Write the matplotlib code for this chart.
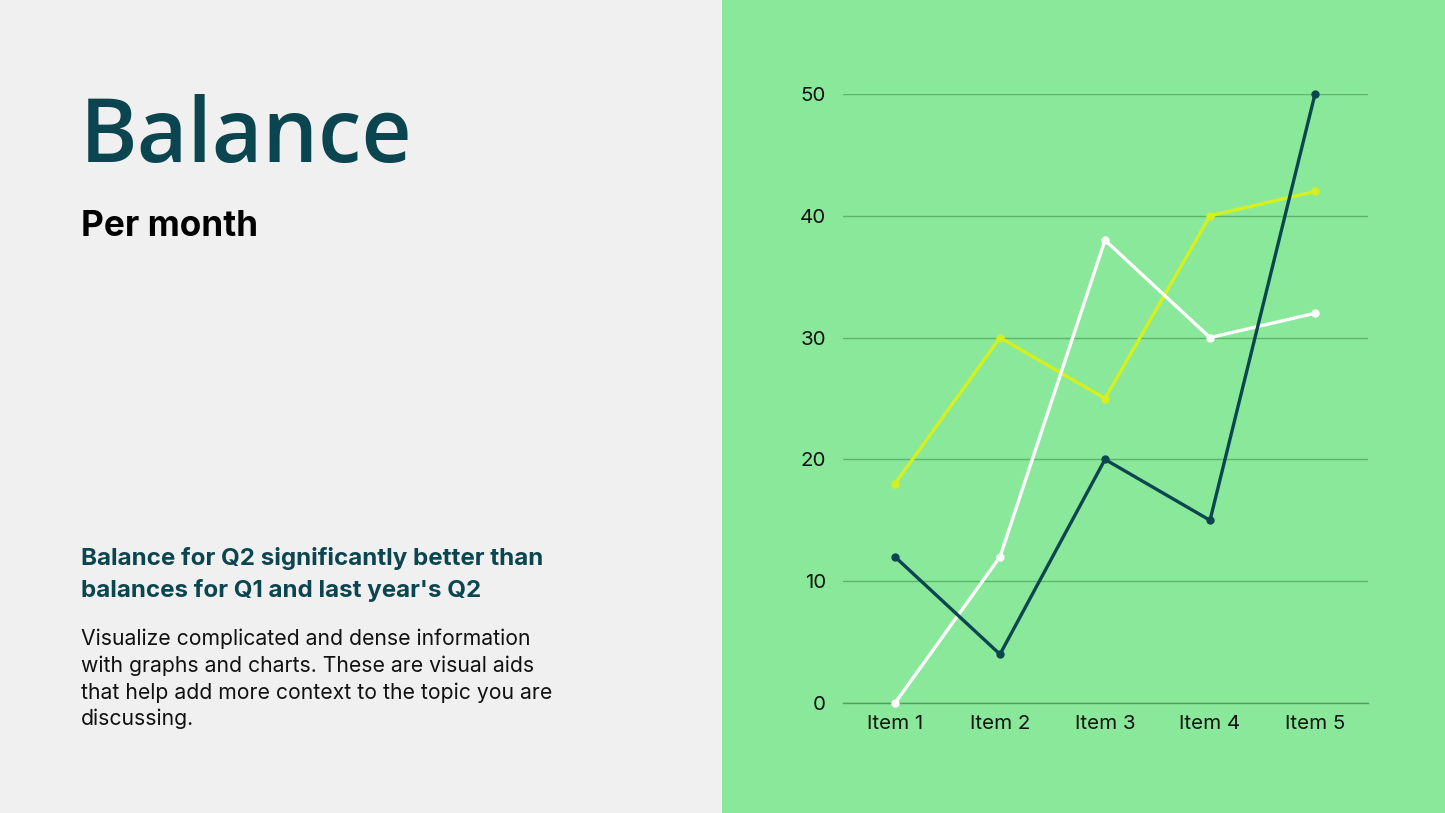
import matplotlib
matplotlib.use("Agg")
import matplotlib.pyplot as plt

# ---- data ----
categories = ["Item 1", "Item 2", "Item 3", "Item 4", "Item 5"]
series_dark = [12, 4, 20, 15, 50]
series_white = [0, 12, 38, 30, 32]
series_yellow = [18, 30, 25, 40, 42]
y_ticks = [0, 10, 20, 30, 40, 50]

W, H = 1445, 813
fig = plt.figure(figsize=(W / 100, H / 100), dpi=100)
fig.patch.set_facecolor("#F0F0F0")

# right green panel
bg = fig.add_axes([722 / W, 0, 1 - 722 / W, 1], zorder=-5)
bg.set_facecolor("#8AE89A")
bg.set_xticks([]); bg.set_yticks([])
for s in bg.spines.values():
    s.set_visible(False)

def fx(x):
    return x / W

def fy(y):
    return 1 - y / H

teal = "#0B4650"

fig.text(fx(80), fy(162), "Balance", fontsize=63, fontweight="semibold", color=teal,
         family=["Open Sans", "DejaVu Sans"], va="baseline", ha="left")
fig.text(fx(81), fy(236), "Per month", fontsize=25.3, fontweight="bold", color="black",
         family=["Inter", "DejaVu Sans"], va="baseline", ha="left")

sub = ["Balance for Q2 significantly better than", "balances for Q1 and last year's Q2"]
for i, line in enumerate(sub):
    fig.text(fx(81), fy(565 + 32 * i), line, fontsize=17.4, fontweight="bold", color=teal,
             family=["Inter", "DejaVu Sans"], va="baseline", ha="left")

body = ["Visualize complicated and dense information",
        "with graphs and charts. These are visual aids",
        "that help add more context to the topic you are",
        "discussing."]
for i, line in enumerate(body):
    fig.text(fx(81), fy(645 + 26.8 * i), line, fontsize=15.25, color="#111111",
             family=["Inter", "DejaVu Sans"], va="baseline", ha="left")

# ---- chart ----
left, right = 842.5, 1367.5
top, bottom = 94, 703
ax = fig.add_axes([left / W, 1 - bottom / H, (right - left) / W, (bottom - top) / H])
ax.set_facecolor("none")
x = list(range(len(categories)))
ax.set_xlim(-0.5, len(categories) - 0.5)
ax.set_ylim(0, 50)
ax.set_yticks(y_ticks)
ax.set_xticks(x)
ax.set_xticklabels(categories)
ax.grid(axis="y", color="#5DB56C", linewidth=1)
ax.set_axisbelow(True)
for s in ["top", "right", "left"]:
    ax.spines[s].set_visible(False)
ax.spines["bottom"].set_color("#4E9E5C")
ax.spines["bottom"].set_linewidth(1)
ax.tick_params(length=0, labelsize=14.8, labelcolor="#111111")
ax.tick_params(axis="y", pad=12)
ax.tick_params(axis="x", pad=8.5)
for lab in ax.get_xticklabels() + ax.get_yticklabels():
    lab.set_family(["Inter", "DejaVu Sans"])

kw = dict(linewidth=2.4, marker="o", markersize=5, clip_on=False, solid_joinstyle="miter")
ax.plot(x, series_yellow, color="#D4F01E", **kw, zorder=3)
ax.plot(x, series_white, color="#FFFFFF", **kw, zorder=4)
ax.plot(x, series_dark, color=teal, **kw, zorder=5)

fig.savefig("out.png", dpi=100, facecolor=fig.get_facecolor())
